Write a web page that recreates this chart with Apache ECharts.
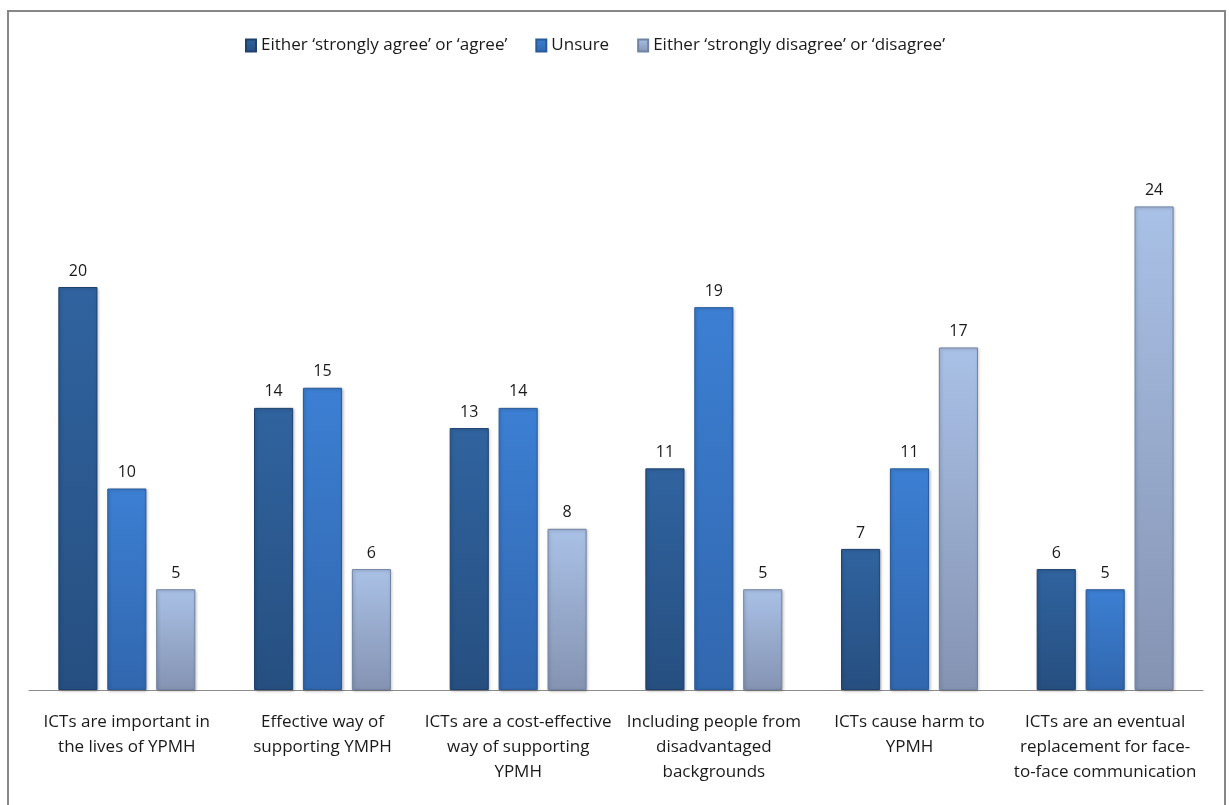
<!DOCTYPE html>
<html>
<head>
<meta charset="utf-8">
<script src="https://cdn.jsdelivr.net/npm/echarts@6/dist/echarts.min.js"></script>
<style>
  html, body { margin: 0; padding: 0; background: #ffffff; }
  #chart { width: 1229px; height: 805px; }
</style>
</head>
<body>
<div id="chart"></div>
<script>
const categories = [
  'ICTs are important in\nthe lives of YPMH',
  'Effective way of\nsupporting YMPH',
  'ICTs are a cost-effective\nway of supporting\nYPMH',
  'Including people from\ndisadvantaged\nbackgrounds',
  'ICTs cause harm to\nYPMH',
  'ICTs are an eventual\nreplacement for face-\nto-face communication'
];
const seriesNames = [
  'Either \u2018strongly agree\u2019 or \u2018agree\u2019',
  'Unsure',
  'Either \u2018strongly disagree\u2019 or \u2018disagree\u2019'
];
const agree = [20, 14, 13, 11, 7, 6];
const unsure = [10, 15, 14, 19, 11, 5];
const disagree = [5, 6, 8, 5, 17, 24];

const fontFamily = "'Open Sans', 'Noto Sans', sans-serif";

function grad(top, bottom) {
  return new echarts.graphic.LinearGradient(0, 0, 0, 1, [
    { offset: 0, color: top },
    { offset: 1, color: bottom }
  ]);
}

const palettes = [
  { fill: grad('#30639f', '#264f80'), border: '#1f426d' },
  { fill: grad('#3c7fd3', '#3167ae'), border: '#2a5a98' },
  { fill: grad('#a9c1e6', '#8593b2'), border: '#7283a3' }
];

// reserved text widths keep the legend entries evenly spread
const legendTextWidths = [275, 70, 260];

function makeSeries(name, data, idx) {
  return {
    name: name,
    type: 'bar',
    data: data,
    barGap: '25%',
    barCategoryGap: '30%',
    itemStyle: {
      color: palettes[idx].fill,
      borderColor: palettes[idx].border,
      borderWidth: 1,
      shadowColor: 'rgba(0,0,0,0.25)',
      shadowBlur: 3,
      shadowOffsetX: 1,
      shadowOffsetY: 1
    },
    label: {
      show: true,
      position: 'top',
      distance: 8,
      color: '#1a1a1a',
      fontSize: 16,
      fontFamily: fontFamily
    },
    emphasis: { disabled: true }
  };
}

const chart = echarts.init(document.getElementById('chart'));
chart.setOption({
  animation: false,
  color: ['#2c5d98', '#3a7bd0', '#9fb3d6'],
  legend: {
    top: 32,
    left: 240,
    itemWidth: 10,
    itemHeight: 12,
    itemGap: 28,
    icon: 'rect',
    textStyle: { fontSize: 17, color: '#1a1a1a', fontFamily: fontFamily },
    data: seriesNames.map((n, i) => ({ name: n, textStyle: { width: legendTextWidths[i] } }))
  },
  grid: { left: 29, right: 26, top: 85.5, bottom: 115 },
  xAxis: {
    type: 'category',
    data: categories,
    axisLine: { show: true, lineStyle: { color: '#8c8c8c', width: 1 } },
    axisTick: { show: false },
    axisLabel: {
      interval: 0,
      margin: 20,
      color: '#1a1a1a',
      fontSize: 17,
      lineHeight: 25,
      fontFamily: fontFamily
    }
  },
  yAxis: {
    type: 'value',
    min: 0,
    max: 30,
    show: false,
    splitLine: { show: false }
  },
  graphic: [
    {
      type: 'rect',
      shape: { x: 8, y: 11, width: 1217, height: 820 },
      style: { fill: 'none', stroke: '#878787', lineWidth: 2 },
      silent: true
    }
  ],
  series: [
    makeSeries(seriesNames[0], agree, 0),
    makeSeries(seriesNames[1], unsure, 1),
    makeSeries(seriesNames[2], disagree, 2)
  ]
});
</script>
</body>
</html>
